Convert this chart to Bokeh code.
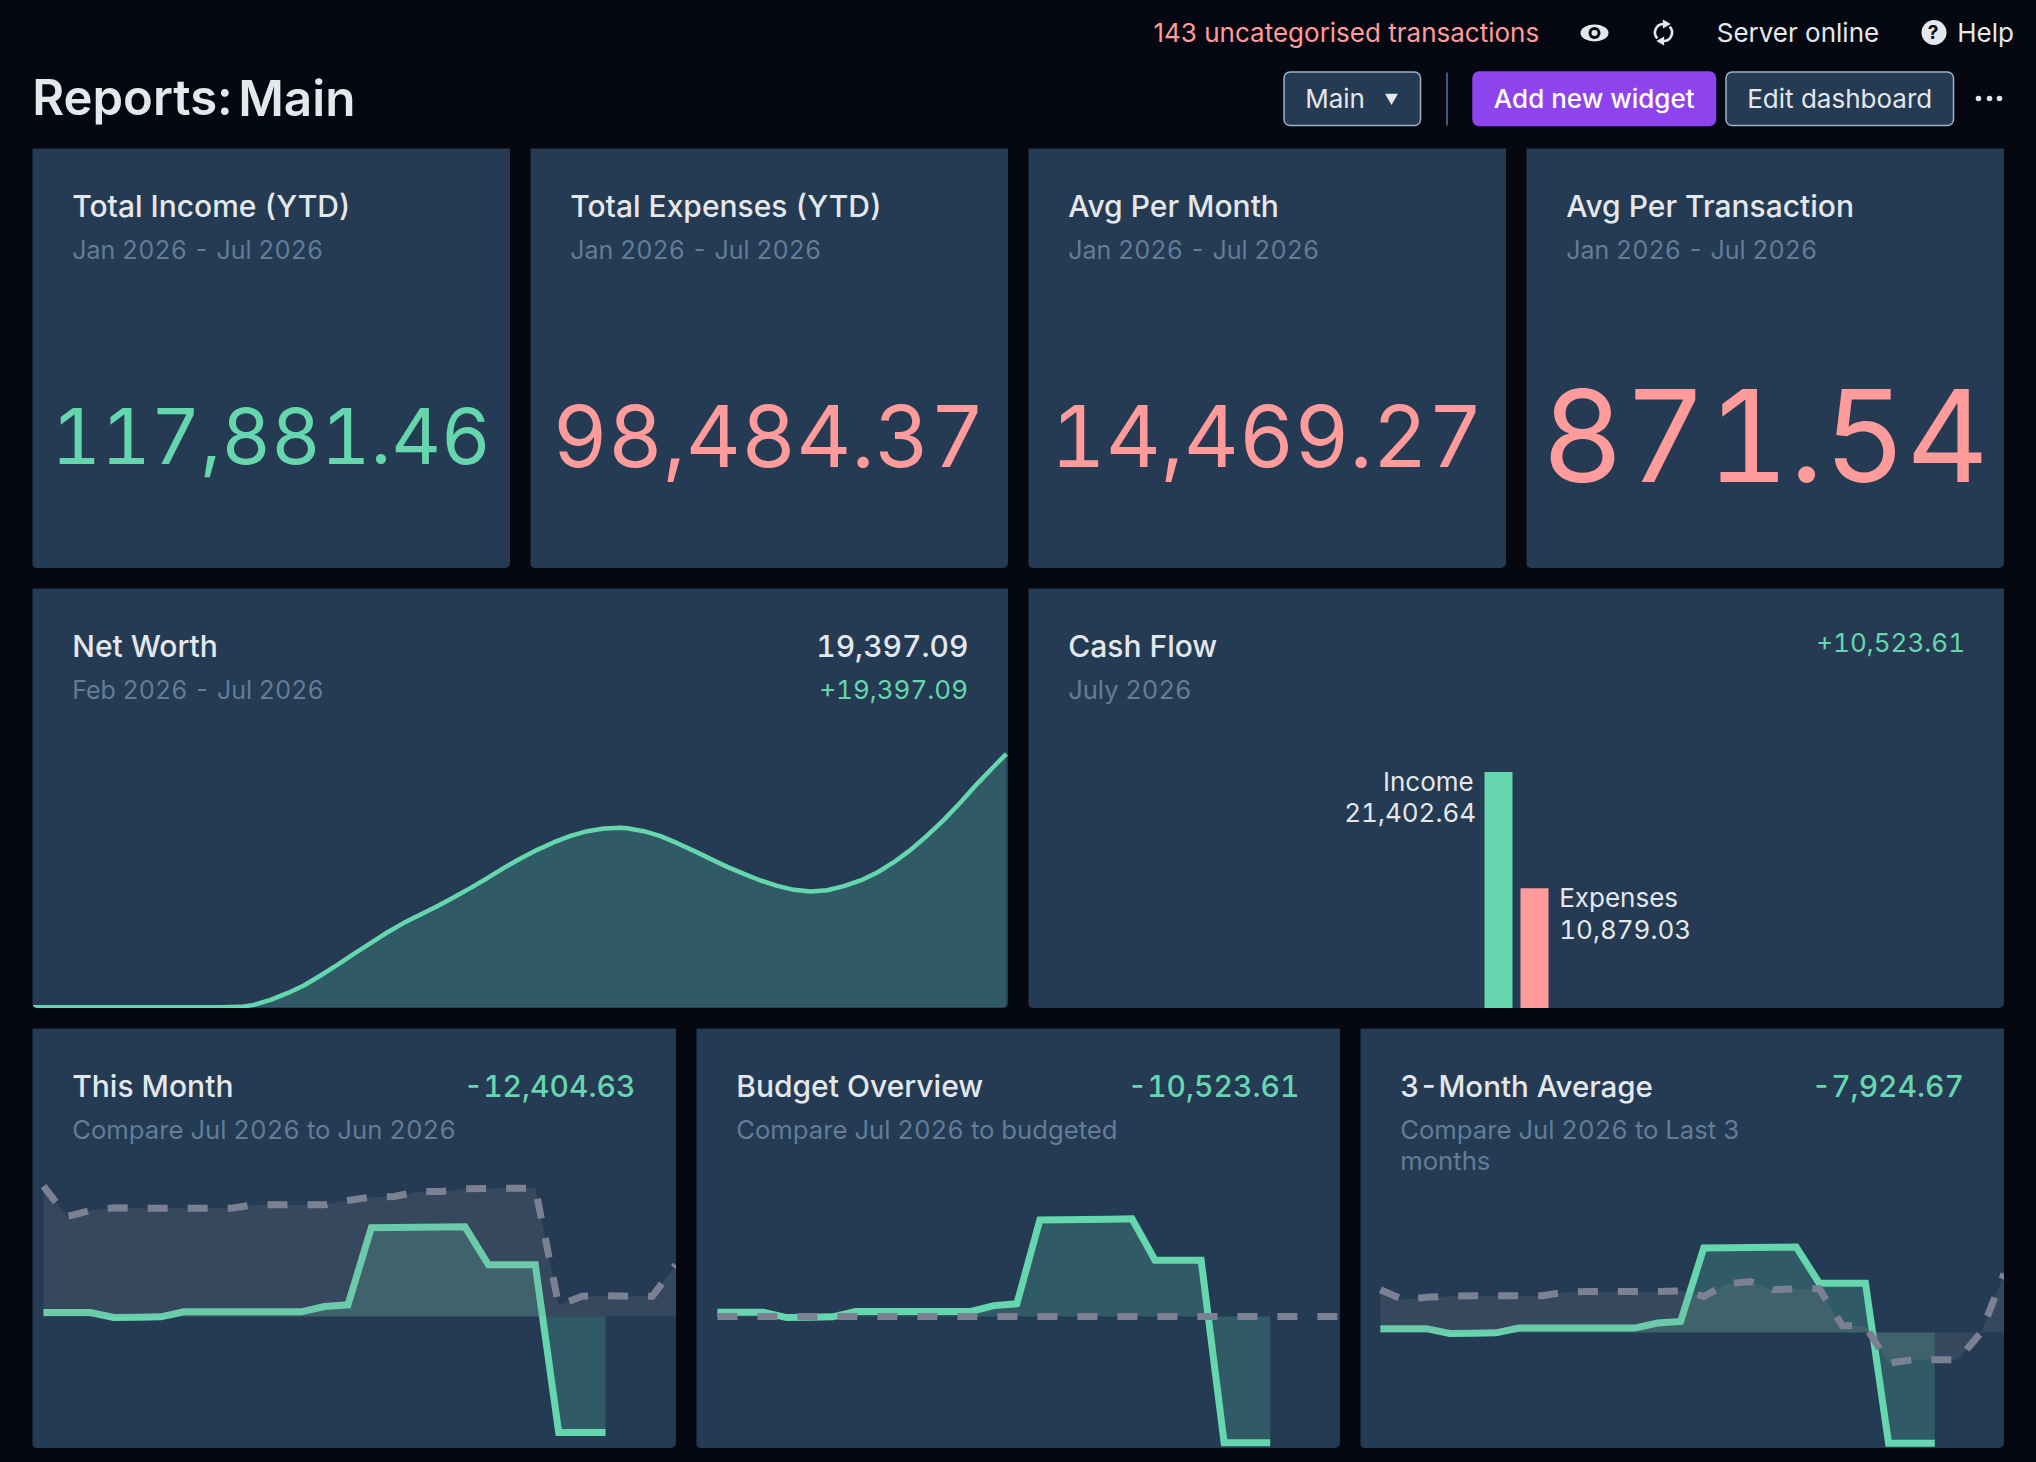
from bokeh.embed import file_html
from bokeh.resources import INLINE
from bokeh.layouts import column, row
from bokeh.models import Label, Range1d, BoxAnnotation
from bokeh.plotting import figure

# ---------- data ----------
kpi_titles = ["Total Income (YTD)", "Total Expenses (YTD)", "Avg Per Month", "Avg Per Transaction"]
kpi_period = "Jan 2026 - Jul 2026"
kpi_values = ["117,881.46", "98,484.37", "14,469.27", "871.54"]

nw_months = [0, 0.963, 1.066, 1.134, 1.220, 1.306, 1.391, 1.477, 1.563, 1.648, 1.734, 1.819, 1.905, 1.991,
             2.076, 2.162, 2.248, 2.333, 2.419, 2.504, 2.590, 2.676, 2.761, 2.847, 2.932, 3.018,
             3.052, 3.138, 3.224, 3.309, 3.395, 3.480, 3.566, 3.652, 3.737, 3.823, 3.909, 3.994,
             4.080, 4.165, 4.251, 4.337, 4.422, 4.508, 4.594, 4.679, 4.765, 4.850, 4.936, 5.000]
nw_values = [0, 0, 25, 178, 561, 1072, 1661, 2427, 3240, 4083, 4899, 5718, 6456, 7096,
             7731, 8421, 9135, 9875, 10666, 11383, 12044, 12631, 13115, 13473, 13680, 13728,
             13702, 13473, 13090, 12554, 11967, 11355, 10742, 10207, 9699, 9288, 8982, 8857,
             8956, 9263, 9699, 10311, 11100, 12044, 13144, 14340, 15693, 17096, 18426, 19397.09]

flow_categories = ["Income", "Expenses"]
flow_positions = [0, 1]
flow_values = [21402.64, 10879.03]

days = list(range(28))
july_values = [363, 363, 363, -91, -60, -30, 423, 423, 423, 423, 423, 423, 907, 1058, 8044, 8065, 8090,
               8110, 8135, 4687, 4687, 4687, -10523.61, -10523.61, -10523.61]
june_values = [11824, 9072, 9616, 9858, 9828, 9828, 9828, 9828, 9828, 10130, 10130, 10130, 10130, 10524,
               10826, 10886, 11340, 11340, 11582, 11612, 11642, 11642, 998, 1845, 1881, 1845, 1845, 4687]
budget_values = [0] * 28
avg3_values = [4058, 3107, 3360, 3455, 3487, 3487, 3487, 3487, 3836, 3899, 3899, 3899, 3899, 3963, 3424,
               4628, 4850, 4058, 4153, 4153, 666, 602, -2916, -2599, -2599, -2599, -32, 5579]

# ---------- style ----------
PAGE = "#060811"
CARD = "#243b53"
TITLE = "#e4e7eb"
SUB = "#627d98"
GREEN = "#65d6ad"
PINK = "#ff9b9b"
GREY = "#7c8093"
BORDER = "#9fb3c8"
PURPLE = "#8e44ec"
FONT = "Inter"
MEDIUM = "Inter Medium"
SEMI = "Inter SemiBold"


def card(w, h=420, xr=(0, 1), yr=(0, 1)):
    return figure(width=w, height=h, x_range=Range1d(*xr), y_range=Range1d(*yr), x_axis_type=None,
                  y_axis_type=None, toolbar_location=None, output_backend="svg", min_border=0,
                  outline_line_color=None, background_fill_color=CARD, border_fill_color=CARD,
                  styles={"border-radius": "0 0 5px 5px", "overflow": "hidden", "font-feature-settings": "'tnum'"})


def txt(fig, x, y, s, size, color, align="left", font=FONT, style="normal"):
    fig.add_layout(Label(x=x - 1.3, y=fig.height - y + 0.6, x_units="screen", y_units="screen", text=s,
                         text_font_size=f"{size}px", text_color=color, text_align=align,
                         text_baseline="middle", text_font=font, text_font_style=style))


# ---------- header ----------
hdr = figure(width=2036, height=128, x_range=Range1d(0, 2036), y_range=Range1d(128, 0), x_axis_type=None,
             y_axis_type=None, toolbar_location=None, output_backend="svg", min_border=0,
             outline_line_color=None, background_fill_color=PAGE, border_fill_color=PAGE)


def button(l, r, fill, line):
    hdr.add_layout(BoxAnnotation(left=l, right=r, top=71.5, bottom=125, fill_color=fill, fill_alpha=1,
                                 line_color=line, line_width=1.5, line_alpha=1, border_radius=6))


txt(hdr, 1154.3, 33, "143 uncategorised transactions", 26, PINK)
hdr.ellipse(x=[1594], y=[32.5], width=28, height=17, fill_color=TITLE, line_color=None)
hdr.circle(x=[1594], y=[32.5], radius=6, fill_color=PAGE, line_color=None)
hdr.circle(x=[1594], y=[32.5], radius=3, fill_color=TITLE, line_color=None)
hdr.arc(x=[1663], y=[32], radius=8.5, start_angle=[1.6], end_angle=[3.9], line_color=TITLE, line_width=2.6)
hdr.arc(x=[1663], y=[32], radius=8.5, start_angle=[4.7], end_angle=[7.04], line_color=TITLE, line_width=2.6)
hdr.scatter(x=[1665, 1661], y=[23.5, 40.5], size=9, marker="triangle", angle=[-1.5708, 1.5708],
            fill_color=TITLE, line_color=None)
txt(hdr, 1717.5, 33, "Server online", 26, TITLE)
hdr.circle(x=[1933.5], y=[32], radius=12.5, fill_color=TITLE, line_color=None)
txt(hdr, 1928.5, 33, "?", 19, PAGE, "left", FONT, "bold")
txt(hdr, 1958, 33, "Help", 26, TITLE)

txt(hdr, 33, 98, "Reports:", 49, TITLE, font=SEMI)
txt(hdr, 239, 98, "Main", 49.5, TITLE, font=SEMI)

button(1283.5, 1420, CARD, BORDER)
txt(hdr, 1306, 98.5, "Main", 26, TITLE)
hdr.scatter(x=[1391], y=[97], size=13, marker="inverted_triangle", fill_color=TITLE, line_color=None,
            level="overlay")
hdr.segment(x0=[1446.5], x1=[1446.5], y0=[72], y1=[125], line_color="#3e5c78", line_width=2)
button(1472.5, 1715, PURPLE, PURPLE)
txt(hdr, 1595, 98.5, "Add new widget", 26, "#ffffff", "center", MEDIUM)
button(1725.5, 1953, CARD, BORDER)
txt(hdr, 1840.5, 98.5, "Edit dashboard", 26, TITLE, "center")
hdr.circle(x=[1978, 1989, 1999], y=[98, 98, 98], radius=2.8, fill_color=TITLE, line_color=None)

# ---------- KPI row ----------
kpi_sizes = [76.8, 85.2, 85.2, 127.5]
kpi_colors = [GREEN, PINK, PINK, PINK]
kpi_left = [20, 23.3, 23.3, 16]
kpis = []
for t, v, s, c, l in zip(kpi_titles, kpi_values, kpi_sizes, kpi_colors, kpi_left):
    f = card(478)
    txt(f, 41, 58, t, 30, TITLE, font=MEDIUM)
    txt(f, 41, 102, kpi_period, 25, SUB)
    txt(f, l, 288, v, s, c)
    kpis.append(f)

# ---------- Net worth ----------
nw = card(976, xr=(-0.003, 5.011), yr=(-100, 32051))
nw.varea(x=nw_months, y1=nw_values, y2=0, fill_color=GREEN, fill_alpha=0.2)
nw.line(x=nw_months, y=nw_values, line_color=GREEN, line_width=4.5)
txt(nw, 41, 58, "Net Worth", 30, TITLE, font=MEDIUM)
txt(nw, 41, 102, "Feb 2026 - Jul 2026", 25, SUB)
txt(nw, 785, 58, "19,397.09", 30, TITLE, font=MEDIUM)
txt(nw, 788, 102, "+19,397.09", 26, GREEN)

# ---------- Cash flow ----------
cf = card(976, xr=(-13.056, 14.056), yr=(0, 38010))
cf.vbar(x=flow_positions, top=flow_values, width=0.778, fill_color=[GREEN, PINK], line_color=None)
txt(cf, 41, 58, "Cash Flow", 30, TITLE, font=MEDIUM)
txt(cf, 41, 102, "July 2026", 25.5, SUB)
txt(cf, 789, 55, "+10,523.61", 26, GREEN)
txt(cf, 446.5, 194, flow_categories[0], 26, TITLE, "right")
txt(cf, 317, 225, f"{flow_values[0]:,.2f}", 26, TITLE)
txt(cf, 532, 310, flow_categories[1], 26, TITLE)
txt(cf, 532, 342, f"{flow_values[1]:,.2f}", 26, TITLE)


# ---------- comparison cards ----------
def compare(title, value, value_left, subs, other, xr, yr, title_size=30):
    f = card(644, xr=xr, yr=yr)
    green_days = days[:len(july_values)]
    f.varea(x=green_days, y1=july_values, y2=0, fill_color=GREEN, fill_alpha=0.2)
    f.line(x=green_days, y=july_values, line_color=GREEN, line_width=7, line_join="miter", line_cap="butt")
    f.varea(x=days, y1=other, y2=0, fill_color="#8d8f9a", fill_alpha=0.16)
    f.line(x=days, y=other, line_color=GREY, line_width=7, line_dash=[20, 20], line_join="miter", line_cap="butt")
    txt(f, 41, 58, title, title_size, TITLE, font=MEDIUM)
    txt(f, value_left, 58, value, 30, GREEN, font=MEDIUM)
    for i, s in enumerate(subs):
        txt(f, 41, 102 + 31 * i, s, 25.7, SUB)
    return f


c1 = compare("This Month", "-12,404.63", 432.5, ["Compare Jul 2026 to Jun 2026"], june_values, (-0.47, 27.03), (-11975, 26127))
c2 = compare("Budget Overview", "-10,523.61", 432.5, ["Compare Jul 2026 to budgeted"], budget_values, (-0.907, 27.05), (-10996, 23990))
c3 = compare("3-Month Average", "-7,924.67", 452.5, ["Compare Jul 2026 to Last 3", "months"], avg3_values, (-0.861, 27.02), (-11032, 28910), 29.5)

r1 = row(*kpis, spacing=20, margin=(0, 0, 0, 32))
r2 = row(nw, cf, spacing=20, margin=(0, 0, 0, 32))
r3 = row(c1, c2, c3, spacing=20, margin=(0, 0, 0, 32))
p = column(hdr, r1, r2, r3, spacing=20)

html = file_html(p, INLINE)
html = html.replace("<head>", f"<head><style>html,body{{background:{PAGE};}}</style>", 1)
open("out.html", "w").write(html)
